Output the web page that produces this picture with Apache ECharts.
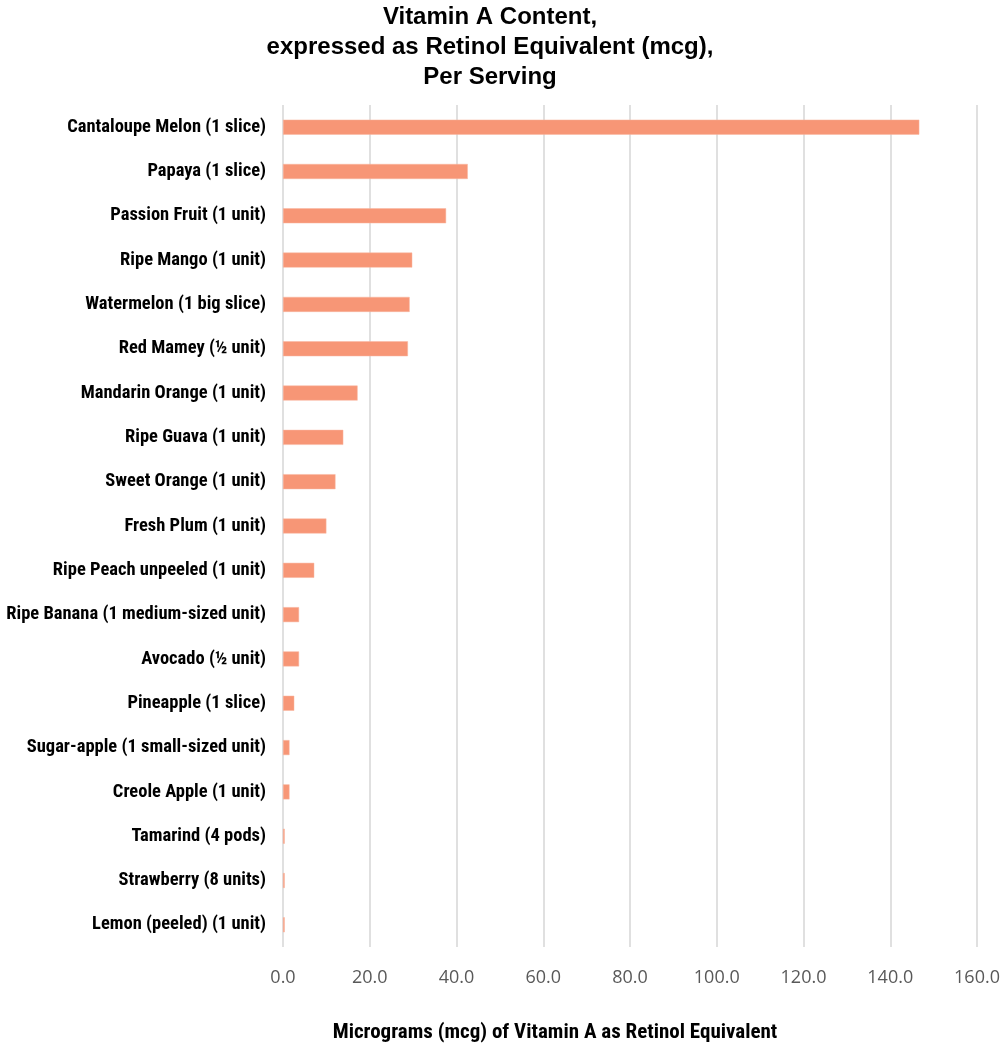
<!DOCTYPE html>
<html><head><meta charset="utf-8">
<script src="https://cdn.jsdelivr.net/npm/echarts@6/dist/echarts.min.js"></script>
<style>html,body{margin:0;padding:0;background:#fff}#c{width:1003px;height:1044px}</style>
</head><body><div id="c"></div>
<script>
const categories = [
  "Cantaloupe Melon (1 slice)",
  "Papaya (1 slice)",
  "Passion Fruit (1 unit)",
  "Ripe Mango (1 unit)",
  "Watermelon (1 big slice)",
  "Red Mamey (½ unit)",
  "Mandarin Orange (1 unit)",
  "Ripe Guava (1 unit)",
  "Sweet Orange (1 unit)",
  "Fresh Plum (1 unit)",
  "Ripe Peach unpeeled (1 unit)",
  "Ripe Banana (1 medium-sized unit)",
  "Avocado (½ unit)",
  "Pineapple (1 slice)",
  "Sugar-apple (1 small-sized unit)",
  "Creole Apple (1 unit)",
  "Tamarind (4 pods)",
  "Strawberry (8 units)",
  "Lemon (peeled) (1 unit)"
];
const values = [146.7, 42.6, 37.6, 29.8, 29.2, 28.8, 17.2, 13.9, 12.1, 10.0, 7.2, 3.7, 3.7, 2.6, 1.5, 1.5, 0.4, 0.4, 0.4];
const xTicks = [0, 20, 40, 60, 80, 100, 120, 140, 160];
const titleLines = ["Vitamin A Content,", "expressed as Retinol Equivalent (mcg),", "Per Serving"];
const xAxisName = "Micrograms (mcg) of Vitamin A as Retinol Equivalent";

const narrow = '"Liberation Sans Narrow", "Arial Narrow", "Roboto Condensed", "DejaVu Sans Condensed", sans-serif';
const chart = echarts.init(document.getElementById('c'), null, {renderer: 'canvas'});
chart.setOption({
  animation: false,
  backgroundColor: '#ffffff',
  title: {
    text: titleLines.join('\n'),
    left: 490, top: 2, padding: 0, textAlign: 'center',
    textStyle: {fontFamily: '"Liberation Sans", Arial, sans-serif', fontWeight: 'bold', fontSize: 24, lineHeight: 30, color: '#000'}
  },
  grid: {left: 283, right: 26, top: 105, bottom: 97, containLabel: false},
  xAxis: {
    type: 'value', min: xTicks[0], max: xTicks[xTicks.length - 1], interval: 20,
    axisLine: {show: false}, axisTick: {show: false},
    splitLine: {show: true, lineStyle: {color: '#e0e0e0', width: 2}},
    axisLabel: {
      margin: 22, color: '#595959', fontSize: 18,
      fontFamily: '"Open Sans", sans-serif',
      formatter: v => v.toFixed(1)
    }
  },
  yAxis: {
    type: 'category', data: categories, inverse: true,
    axisLine: {show: false}, axisTick: {show: false},
    axisLabel: {margin: 17, color: '#000', fontWeight: 'bold', fontSize: 18.5, fontFamily: narrow}
  },
  graphic: [{
    type: 'text', x: 555, y: 1033,
    style: {text: xAxisName, fill: '#000', font: 'bold 21px ' + narrow, textAlign: 'center', textVerticalAlign: 'middle'}
  }],
  series: [{
    type: 'bar', data: values, barWidth: 15,
    itemStyle: {color: '#F79676', borderColor: '#F9B7A1', borderWidth: 0.5}
  }]
});
</script></body></html>
